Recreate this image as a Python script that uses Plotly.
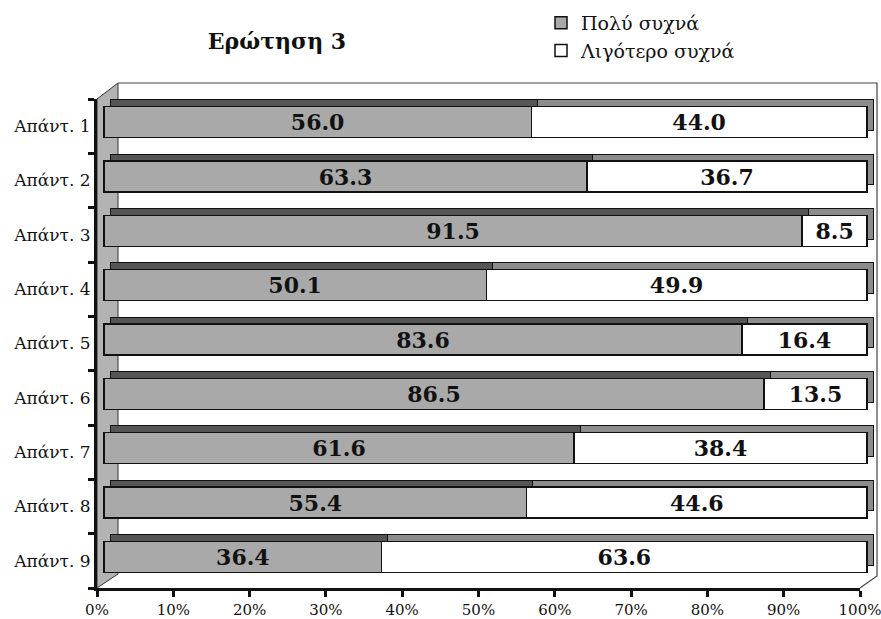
import plotly.graph_objects as go

categories = ["Απάντ. 1", "Απάντ. 2", "Απάντ. 3", "Απάντ. 4", "Απάντ. 5",
              "Απάντ. 6", "Απάντ. 7", "Απάντ. 8", "Απάντ. 9"]
very_often = [56.0, 63.3, 91.5, 50.1, 83.6, 86.5, 61.6, 55.4, 36.4]
less_often = [44.0, 36.7, 8.5, 49.9, 16.4, 13.5, 38.4, 44.6, 63.6]
series_names = ["Πολύ συχνά", "Λιγότερο συχνά"]
x_ticks = [0, 10, 20, 30, 40, 50, 60, 70, 80, 90, 100]
x_tick_labels = [f"{v}%" for v in x_ticks]
title_text = "Ερώτηση 3"

pos = list(range(len(categories)))
n = len(categories)

W, H = 881, 619
ML, MR, MT, MB = 97, 1, 80, 31
PW = W - ML - MR
PH = H - MT - MB
AX_R = 860
AX_T = 99
unit_x = (AX_R - ML) / 100.0
cat_px = (H - MB - AX_T) / n

def px2paper_x(px):
    return (px - ML) / PW

def px2paper_y(py):
    return (H - MB - py) / PH

def xrange_for(off):
    a = -off / unit_x
    return [a, a + PW / unit_x]

def yrange_for(offy):
    top = -0.5 - (AX_T - MT - offy) / cat_px
    bottom = top + PH / cat_px
    return [bottom, top]

fx, fy = 7, 4
bx, by = 13, 11

SERIF = "DejaVu Serif"
BAR_W = 0.57

fig = go.Figure()

fig.add_trace(go.Scatter(x=[None], y=[None], xaxis="x", yaxis="y",
                         showlegend=False, hoverinfo="skip"))

fig.add_trace(go.Bar(y=pos, x=very_often, orientation="h", xaxis="x2", yaxis="y2",
                     width=BAR_W, marker=dict(color="#555555", line=dict(color="#111", width=1)),
                     showlegend=False, hoverinfo="skip"))
fig.add_trace(go.Bar(y=pos, x=less_often, orientation="h", xaxis="x2", yaxis="y2",
                     width=BAR_W, marker=dict(color="#8c8c8c", line=dict(color="#111", width=1)),
                     showlegend=False, hoverinfo="skip"))

for vals, name, col in [(very_often, series_names[0], "#a9a9a9"),
                        (less_often, series_names[1], "#ffffff")]:
    fig.add_trace(go.Bar(y=pos, x=vals, orientation="h", xaxis="x3", yaxis="y3",
                         name=name, width=BAR_W,
                         marker=dict(color=col, line=dict(color="#111", width=1.5)),
                         texttemplate="%{x:.1f}", textposition="inside",
                         insidetextanchor="middle", textangle=0, constraintext="none",
                         textfont=dict(family=SERIF, size=22, color="#111", weight="bold")))

shapes = []
wall = [(97, 99), (118, 83), (118, 574), (97, 588)]
path = "M " + " L ".join(f"{px2paper_x(a)},{px2paper_y(b)}" for a, b in wall) + " Z"
shapes.append(dict(type="path", path=path, xref="paper", yref="paper",
                   fillcolor="#b3b3b3", line=dict(color="#333", width=1), layer="below"))
box = [(118, 83), (877, 83), (877, 576), (860, 588)]
path2 = "M " + " L ".join(f"{px2paper_x(a)},{px2paper_y(b)}" for a, b in box)
shapes.append(dict(type="path", path=path2, xref="paper", yref="paper",
                   line=dict(color="#444", width=1.2), layer="below"))

fig.update_layout(
    width=W, height=H,
    margin=dict(l=ML, r=MR, t=MT, b=MB, autoexpand=False),
    paper_bgcolor="white", plot_bgcolor="rgba(0,0,0,0)",
    barmode="stack",
    shapes=shapes,
    font=dict(family=SERIF, color="#111"),
    title=dict(text=f"<b>{title_text}</b>", xref="paper", x=px2paper_x(277),
               xanchor="center", yref="container", y=1 - 41 / H, yanchor="middle",
               font=dict(family=SERIF, size=22, color="#111")),
    legend=dict(x=px2paper_x(541), xanchor="left", y=px2paper_y(4), yanchor="top",
                traceorder="normal", bgcolor="rgba(0,0,0,0)",
                font=dict(family=SERIF, size=19, color="#111")),
    xaxis=dict(domain=[0, px2paper_x(AX_R)], range=[0, 100], tickvals=x_ticks,
               ticktext=x_tick_labels, showgrid=False, zeroline=False, showline=True,
               linecolor="#111", linewidth=3, anchor="y", automargin=False,
               ticklabeloverflow="allow",
               ticks="outside", ticklen=6, tickwidth=3, tickcolor="#111",
               tickfont=dict(family=SERIF, size=15, color="#111")),
    yaxis=dict(domain=[0, px2paper_y(AX_T)], range=[n - 0.5, -0.5], tickvals=pos,
               ticktext=categories, showgrid=False, anchor="x", automargin=False,
               zeroline=False, showline=True, linecolor="#111", linewidth=3,
               ticks="", tickfont=dict(family=SERIF, size=17, color="#111"),
               minor=dict(tick0=-0.5, dtick=1, ticks="outside", ticklen=6,
                          tickwidth=3, tickcolor="#111", showgrid=False)),
    xaxis2=dict(domain=[0, 1], anchor="y2", visible=False, range=xrange_for(bx)),
    yaxis2=dict(domain=[0, 1], anchor="x2", visible=False, range=yrange_for(by)),
    xaxis3=dict(domain=[0, 1], anchor="y3", visible=False, range=xrange_for(fx)),
    yaxis3=dict(domain=[0, 1], anchor="x3", visible=False, range=yrange_for(fy)),
)

fig.write_html("out.html", config={"displayModeBar": False},
               post_script="document.body.style.margin='0';document.body.style.overflow='hidden';")
